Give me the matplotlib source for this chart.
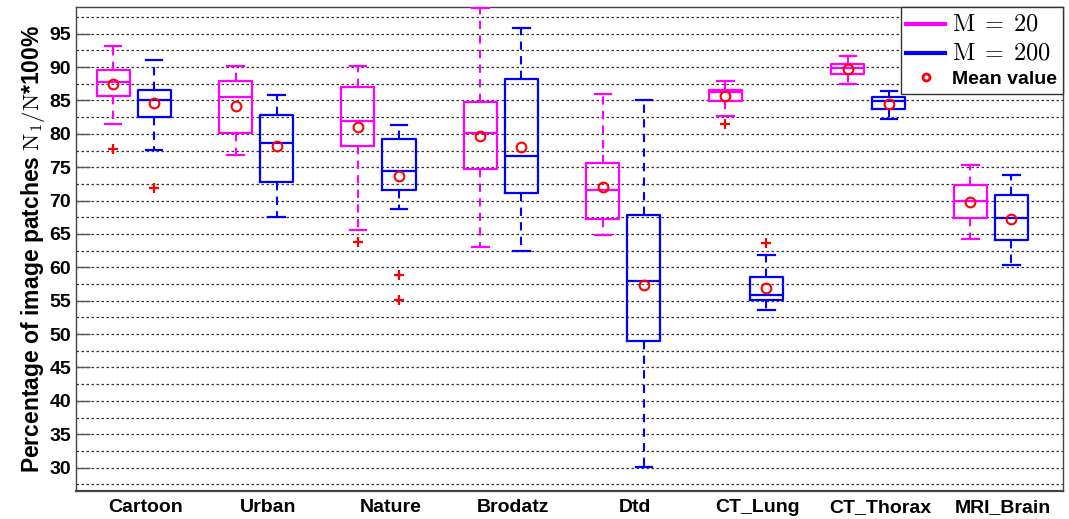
import matplotlib
matplotlib.use("Agg")
import matplotlib.pyplot as plt
from matplotlib.lines import Line2D
from matplotlib.ticker import MultipleLocator
import matplotlib.transforms as mtransforms

plt.rcParams['mathtext.fontset'] = 'cm'

categories = ["Cartoon", "Urban", "Nature", "Brodatz", "Dtd", "CT_Lung", "CT_Thorax", "MRI_Brain"]

# M = 20 (magenta)
m20_whislo = [81.4, 76.9, 65.65, 63.1, 64.8, 82.7, 87.4, 64.3]
m20_q1     = [85.7, 80.2, 78.2, 74.8, 67.3, 84.85, 88.9, 67.45]
m20_med    = [87.7, 85.5, 81.9, 80.2, 71.55, 86.2, 89.9, 69.9]
m20_q3     = [89.55, 87.9, 87.0, 84.7, 75.65, 86.6, 90.4, 72.3]
m20_whishi = [93.15, 90.15, 90.15, 98.8, 85.9, 87.9, 91.7, 75.4]
m20_mean   = [87.5, 84.2, 81.0, 79.65, 72.1, 85.65, 89.7, 69.8]
m20_fliers = [[77.7], [], [63.8], [], [], [81.4], [], []]

# M = 200 (blue)
m200_whislo = [77.6, 67.5, 68.75, 62.5, 30.15, 53.65, 82.2, 60.35]
m200_q1     = [82.5, 72.75, 71.55, 71.2, 48.9, 55.05, 83.7, 64.1]
m200_med    = [85.1, 78.7, 74.5, 76.65, 58.0, 55.9, 84.85, 67.45]
m200_q3     = [86.5, 82.8, 79.25, 88.15, 67.85, 58.5, 85.5, 70.8]
m200_whishi = [91.1, 85.8, 81.25, 95.8, 85.1, 61.85, 86.35, 73.85]
m200_mean   = [84.6, 78.15, 73.7, 78.0, 57.3, 56.9, 84.5, 67.25]
m200_fliers = [[71.85], [], [58.9, 55.05], [], [], [63.7], [], []]

y_ticks = [30, 35, 40, 45, 50, 55, 60, 65, 70, 75, 80, 85, 90, 95]

MAG = '#ff00ff'
BLU = '#0000ff'

fig = plt.figure(figsize=(10.69, 5.19), dpi=100)
ax = fig.add_axes([0.0711, 0.054, 0.9233, 0.9325])

def stats(wlo, q1, med, q3, whi, mean, fl):
    out = []
    for i in range(len(wlo)):
        out.append(dict(whislo=wlo[i], q1=q1[i], med=med[i], q3=q3[i],
                        whishi=whi[i], mean=mean[i], fliers=fl[i]))
    return out

def draw(st, pos, color):
    ax.bxp(st, positions=pos, widths=0.27, showmeans=True, showfliers=True,
           boxprops=dict(color=color, linewidth=1.6),
           medianprops=dict(color=color, linewidth=1.6),
           whiskerprops=dict(color=color, linewidth=1.5, linestyle=(0, (4, 3))),
           capprops=dict(color=color, linewidth=1.6),
           meanprops=dict(marker='o', markerfacecolor='none', markeredgecolor='red',
                          markersize=7, markeredgewidth=1.5),
           flierprops=dict(marker='+', markeredgecolor='red', markersize=7,
                           markeredgewidth=1.6), zorder=3)

n = len(categories)
centers = [i + 1 for i in range(n)]
draw(stats(m20_whislo, m20_q1, m20_med, m20_q3, m20_whishi, m20_mean, m20_fliers),
     [c - 0.1675 for c in centers], MAG)
draw(stats(m200_whislo, m200_q1, m200_med, m200_q3, m200_whishi, m200_mean, m200_fliers),
     [c + 0.1675 for c in centers], BLU)

ax.set_xlim(0.53, 8.59)
ax.set_ylim(26.5, 99.0)
ax.set_yticks(y_ticks)
ax.set_yticklabels([str(t) for t in y_ticks], fontsize=14, fontweight='bold',
                   family=['Liberation Sans', 'DejaVu Sans'])
ax.yaxis.set_minor_locator(MultipleLocator(2.5))
ax.grid(True, which='both', axis='y', linestyle=(0, (2, 2)), color='#333333', linewidth=0.9)
ax.set_axisbelow(True)
ax.tick_params(axis='y', which='major', direction='in', length=10, width=1, color='#555555')
ax.tick_params(axis='y', which='minor', length=0)
ax.tick_params(axis='x', length=0, pad=6)

ax.set_xticks(centers)
ax.set_xticklabels(categories, fontsize=14, fontweight='bold',
                   family=['Liberation Sans', 'DejaVu Sans'])
offset = mtransforms.ScaledTranslation(12 / 100, 0, fig.dpi_scale_trans)
for lbl in ax.get_xticklabels():
    lbl.set_transform(lbl.get_transform() + offset)

for s in ax.spines.values():
    s.set_color('#444444')
    s.set_linewidth(1.0)
ax.spines['bottom'].set_linewidth(1.6)

ax.set_ylabel(r"Percentage of image patches $\mathrm{N}_1/\mathrm{N}$*100%", fontsize=16.5,
              fontweight='bold', family=['Liberation Sans', 'DejaVu Sans'], labelpad=2)

handles = [Line2D([], [], color=MAG, linewidth=3),
           Line2D([], [], color=BLU, linewidth=3),
           Line2D([], [], color='red', marker='o', linestyle='none', markerfacecolor='none',
                  markersize=5, markeredgewidth=2)]
labels = [r"$\mathrm{M} \;=\; 20$", r"$\mathrm{M} \;=\; 200$", "Mean value"]
leg = ax.legend(handles, labels, loc='upper right', borderaxespad=0, fancybox=False,
                edgecolor='#333333', framealpha=1, handlelength=2.0, handletextpad=0.35,
                labelspacing=0.3, borderpad=0.3,
                prop=dict(family=['Liberation Sans', 'DejaVu Sans'], weight='bold', size=14))
leg.get_frame().set_linewidth(1.0)
for t in leg.get_texts()[:2]:
    t.set_fontsize(17.5)

fig.savefig("out.png", dpi=100)
